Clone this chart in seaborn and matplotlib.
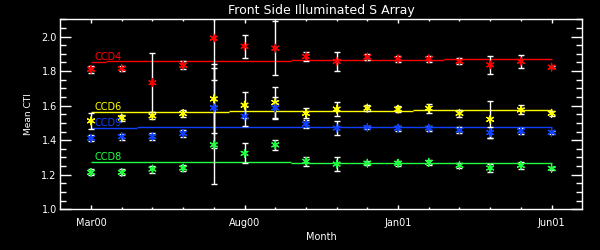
import numpy as np
import pandas as pd
import matplotlib
matplotlib.use("Agg")
import matplotlib.pyplot as plt
import seaborn as sns

# ---------------- data ----------------
months = ["Mar00", "Apr00", "May00", "Jun00", "Jul00", "Aug00", "Sep00", "Oct00",
          "Nov00", "Dec00", "Jan01", "Feb01", "Mar01", "Apr01", "May01", "Jun01"]
tick_months = ["Mar00", "Aug00", "Jan01", "Jun01"]

ccd4 = [1.811, 1.815, 1.733, 1.834, 1.991, 1.944, 1.933, 1.884,
        1.857, 1.882, 1.871, 1.871, 1.857, 1.836, 1.857, 1.823]
ccd4_err = [0.019, 0.017, 0.170, 0.023, 0.240, 0.067, 0.156, 0.027,
            0.055, 0.015, 0.019, 0.019, 0.017, 0.054, 0.037, 0.004]
ccd6 = [1.512, 1.529, 1.541, 1.554, 1.639, 1.603, 1.618, 1.556,
        1.580, 1.586, 1.580, 1.585, 1.556, 1.521, 1.575, 1.556]
ccd6_err = [0.047, 0.017, 0.020, 0.021, 0.200, 0.075, 0.090, 0.029,
            0.039, 0.015, 0.019, 0.027, 0.019, 0.107, 0.026, 0.015]
ccd9 = [1.412, 1.421, 1.421, 1.440, 1.587, 1.539, 1.587, 1.494,
        1.470, 1.474, 1.470, 1.470, 1.459, 1.444, 1.454, 1.446]
ccd9_err = [0.017, 0.017, 0.020, 0.020, 0.230, 0.058, 0.065, 0.023,
            0.040, 0.010, 0.015, 0.015, 0.015, 0.030, 0.019, 0.010]
ccd8 = [1.214, 1.214, 1.233, 1.239, 1.373, 1.324, 1.373, 1.278,
        1.262, 1.267, 1.267, 1.272, 1.255, 1.239, 1.255, 1.237]
ccd8_err = [0.017, 0.017, 0.020, 0.020, 0.225, 0.057, 0.029, 0.027,
            0.038, 0.010, 0.015, 0.015, 0.015, 0.024, 0.019, 0.010]

# piecewise fit levels (breakpoints in month index)
ccd4_fit_breaks = [0, 0.5, 6.5, 11.5, 15]
ccd4_fit_levels = [1.851, 1.856, 1.862, 1.868]
ccd6_fit_breaks = [0, 4.5, 10.5, 15]
ccd6_fit_levels = [1.562, 1.569, 1.575]
ccd9_fit_breaks = [0, 1.5, 15]
ccd9_fit_levels = [1.469, 1.475]
ccd8_fit_breaks = [0, 6.5, 15]
ccd8_fit_levels = [1.272, 1.267]

series_names = ["CCD4", "CCD6", "CCD9", "CCD8"]
colors = {"CCD4": "#ff0000", "CCD6": "#ffff00", "CCD9": "#1040ff", "CCD8": "#20ff40"}

values = {"CCD4": ccd4, "CCD6": ccd6, "CCD9": ccd9, "CCD8": ccd8}
errors = {"CCD4": ccd4_err, "CCD6": ccd6_err, "CCD9": ccd9_err, "CCD8": ccd8_err}
fits = {"CCD4": (ccd4_fit_breaks, ccd4_fit_levels),
        "CCD6": (ccd6_fit_breaks, ccd6_fit_levels),
        "CCD9": (ccd9_fit_breaks, ccd9_fit_levels),
        "CCD8": (ccd8_fit_breaks, ccd8_fit_levels)}

x_idx = np.arange(len(months))
df = pd.concat([pd.DataFrame({"x": x_idx, "cti": values[n], "err": errors[n], "ccd": n})
                for n in series_names], ignore_index=True)

# ---------------- style ----------------
sns.set_theme(style="dark")
plt.rcParams.update({
    "figure.facecolor": "black", "axes.facecolor": "black",
    "axes.edgecolor": "white", "text.color": "white",
    "axes.labelcolor": "white", "xtick.color": "white", "ytick.color": "white",
    "axes.grid": False,
})
plt.rcParams["font.family"] = ["DejaVu Sans"]

fig = plt.figure(figsize=(6, 2.5), dpi=100)
ax = fig.add_axes([60.3 / 600, 1 - 209.3 / 250, 522 / 600, 190 / 250])

# error bars (white)
for n in series_names:
    d = df[df.ccd == n]
    ax.errorbar(d.x, d.cti, yerr=d.err, fmt="none", ecolor="white",
                elinewidth=1.0, capsize=2.2, capthick=1.0, zorder=2)

# fitted piecewise lines
for n in series_names:
    br, lv = fits[n]
    ax.hlines(lv, br[:-1], br[1:], colors=colors[n], linewidth=1.0, zorder=1)
    ax.text(0.1, lv[0] + 0.004, n, color=colors[n], fontsize=7,
            ha="left", va="bottom", zorder=4)

# asterisk markers
sns.scatterplot(data=df, x="x", y="cti", hue="ccd", palette=colors,
                marker=(6, 2, 0), s=30, linewidth=0.9, legend=False,
                ax=ax, zorder=3)

ax.set_xlim(-1, 16)
ax.set_ylim(1.0, 2.1)
ax.set_xticks([months.index(m) for m in tick_months])
ax.set_xticklabels(tick_months)
ax.set_xticks(x_idx, minor=True)
ax.set_yticks([1.0, 1.2, 1.4, 1.6, 1.8, 2.0])
ax.set_yticklabels(["1.0", "1.2", "1.4", "1.6", "1.8", "2.0"])
ax.set_yticks(np.arange(1.0, 2.1001, 0.05), minor=True)

ax.tick_params(axis="x", which="major", direction="in", length=3, width=1,
               top=True, bottom=True, labelsize=7, pad=6)
ax.tick_params(axis="x", which="minor", direction="in", length=1.7, width=1,
               top=True, bottom=True)
ax.tick_params(axis="y", which="major", direction="in", length=7.7, width=1,
               left=True, right=True, labelsize=7, pad=2.5)
ax.tick_params(axis="y", which="minor", direction="in", length=4, width=1,
               left=True, right=True)
for s in ax.spines.values():
    s.set_color("white")
    s.set_linewidth(1.0)

ax.set_xlabel("Month", fontsize=7, labelpad=3)
ax.set_ylabel("Mean CTI", fontsize=6.5, labelpad=6)
ax.set_title("Front Side Illuminated S Array", fontsize=9, color="white", pad=3.5)

fig.savefig("out.png", dpi=100, facecolor="black")
